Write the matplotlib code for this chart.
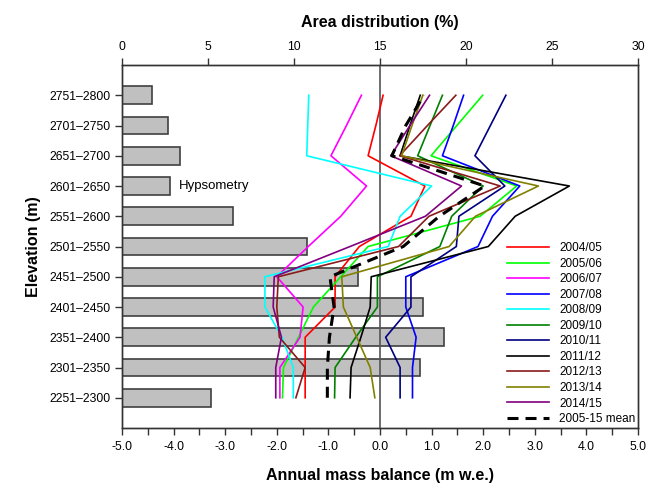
import numpy as np
import matplotlib.pyplot as plt
from matplotlib.ticker import MultipleLocator, FormatStrFormatter

# elevation bands, bottom to top
bands = ['2251–2300', '2301–2350', '2351–2400', '2401–2450', '2451–2500',
         '2501–2550', '2551–2600', '2601–2650', '2651–2700', '2701–2750',
         '2751–2800']

# hypsometry (% of glacier area)
area = [5.19, 17.33, 18.72, 17.48, 13.74, 10.75, 6.43, 2.79, 3.39, 2.65, 1.76]

# annual mass balance per band (m w.e.)
years = ['2004/05', '2005/06', '2006/07', '2007/08', '2008/09', '2009/10',
         '2010/11', '2011/12', '2012/13', '2013/14', '2014/15']
b_0405 = [-1.45, -1.45, -1.45, -0.87, -0.87, -0.40, 0.60, 0.87, -0.23, -0.08, 0.06]
b_0506 = [-1.89, -1.87, -1.58, -1.29, -0.76, -0.23, 1.94, 2.65, 0.99, 1.49, 1.99]
b_0607 = [-1.94, -1.94, -1.55, -1.49, -2.00, -1.39, -0.76, -0.26, -0.95, -0.65, -0.36]
b_0708 = [0.63, 0.63, 0.70, 0.50, 0.50, 1.90, 2.18, 2.71, 1.21, 1.42, 1.62]
b_0809 = [-1.68, -1.68, -1.90, -2.23, -2.23, 0.16, 0.39, 1.00, -1.42, -1.40, -1.38]
b_0910 = [-0.88, -0.87, -0.47, -0.05, -0.05, 1.16, 1.39, 2.00, 0.73, 0.97, 1.21]
b_1011 = [0.39, 0.39, 0.11, 0.60, 0.60, 1.48, 1.53, 2.42, 1.84, 2.14, 2.44]
b_1112 = [-0.58, -0.56, -0.37, -0.19, -0.17, 2.10, 2.62, 3.67, 0.39, 0.58, 0.78]
b_1213 = [-1.63, -1.45, -1.95, -2.00, -1.97, 0.36, 0.95, 2.33, 0.38, 0.92, 1.47]
b_1314 = [-0.10, -0.19, -0.45, -0.71, -0.74, 1.34, 1.85, 3.07, 0.42, 0.62, 0.83]
b_1415 = [-2.02, -2.02, -1.91, -2.07, -2.05, -0.58, 0.88, 1.58, 0.21, 0.58, 0.96]
b_mean = [-1.02, -1.02, -0.98, -0.89, -0.97, 0.45, 1.15, 2.03, 0.23, 0.50, 0.85]

series = [b_0405, b_0506, b_0607, b_0708, b_0809, b_0910,
          b_1011, b_1112, b_1213, b_1314, b_1415]
colors = ['#ff0000', '#00ff00', '#ff00ff', '#0000ff', '#00ffff', '#008000',
          '#000080', '#000000', '#8b1a1a', '#808000', '#800080']

plt.rcParams['font.family'] = ['Liberation Sans', 'DejaVu Sans']

y = np.arange(len(bands))

fig = plt.figure(figsize=(6.52, 4.91), dpi=100)
ax = fig.add_axes([0.1871, 0.1283, 0.7914, 0.7393])
axt = ax.twiny()

# bars on the top (area) axis, kept underneath the lines
axt.barh(y, area, height=0.58, color='#c0c0c0', edgecolor='#404040', linewidth=1.2)
axt.set_xlim(0, 30)
axt.xaxis.set_major_locator(MultipleLocator(5))
axt.text(3.3, y[7], 'Hypsometry', va='center', ha='left', fontsize=9.5)
axt.set_xlabel('Area distribution (%)', fontsize=11.5, fontweight='bold', labelpad=10)
ax.set_zorder(axt.get_zorder() + 1)
ax.patch.set_visible(False)

ax.axvline(0, color='#555555', lw=1.2, zorder=1)
for vals, lab, c in zip(series, years, colors):
    ax.plot(vals, y, color=c, lw=1.2, label=lab, zorder=3)
ax.plot(b_mean, y, color='black', lw=2.2, ls=(0, (3.6, 2.3)), label='2005-15 mean', zorder=4)

ax.set_xlim(-5, 5)
ax.set_ylim(-1.0, 11.0)
ax.xaxis.set_major_locator(MultipleLocator(1))
ax.xaxis.set_minor_locator(MultipleLocator(0.5))
ax.xaxis.set_major_formatter(FormatStrFormatter('%.1f'))
ax.set_yticks(y)
ax.set_yticklabels(bands)
ax.set_xlabel('Annual mass balance (m w.e.)', fontsize=11.5, fontweight='bold', labelpad=11)
ax.set_ylabel('Elevation (m)', fontsize=11.5, fontweight='bold', labelpad=6)

for a in (ax, axt):
    for s in a.spines.values():
        s.set_color('#333333')
        s.set_linewidth(1.0)
ax.tick_params(axis='x', which='both', direction='out', length=5, width=1, color='#333333',
               pad=4, labelsize=8.8)
ax.tick_params(axis='y', direction='out', length=5, width=1, color='#333333', pad=3, labelsize=8.8)
axt.tick_params(axis='x', direction='out', length=5, width=1, color='#333333', pad=4, labelsize=8.8)

ax.legend(loc='upper left', bbox_to_anchor=(0.737, 0.525), frameon=False, fontsize=8.5,
          handlelength=3.6, handletextpad=0.8, labelspacing=0.3, borderaxespad=0)

fig.savefig('out.png', dpi=100)
